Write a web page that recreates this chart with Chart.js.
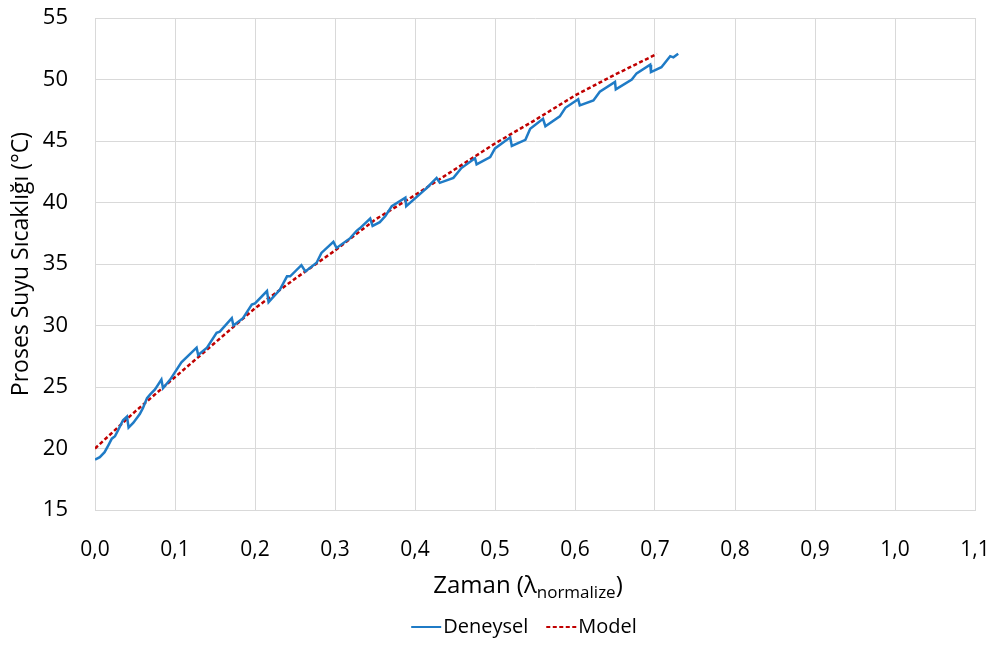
<!DOCTYPE html>
<html>
<head>
<meta charset="utf-8">
<script src="https://cdn.jsdelivr.net/npm/chart.js@4/dist/chart.umd.min.js"></script>
<style>
  html, body { margin: 0; padding: 0; background: #ffffff; }
  #wrap { width: 1001px; height: 650px; }
</style>
</head>
<body>
<div id="wrap"><canvas id="chart" width="1001" height="650"></canvas></div>
<script>
// Deneysel (measured) - time (normalized) and temperature
const deneyselX = [0.000, 0.006, 0.012, 0.017, 0.021, 0.025, 0.029, 0.035, 0.040, 0.042, 0.048, 0.056, 0.060, 0.065, 0.069, 0.075,
    0.083, 0.085, 0.094, 0.108, 0.127, 0.129, 0.140, 0.152, 0.156, 0.171, 0.173, 0.185, 0.196, 0.200, 0.215, 0.217,
    0.231, 0.240, 0.244, 0.258, 0.263, 0.277, 0.283, 0.298, 0.302, 0.319, 0.327, 0.331, 0.344, 0.347, 0.356, 0.363,
    0.371, 0.388, 0.389, 0.410, 0.415, 0.427, 0.431, 0.448, 0.458, 0.475, 0.477, 0.494, 0.500, 0.519, 0.521, 0.538,
    0.544, 0.560, 0.563, 0.581, 0.588, 0.604, 0.606, 0.623, 0.631, 0.650, 0.651, 0.671, 0.677, 0.694, 0.695, 0.708,
    0.719, 0.723, 0.729];
const deneyselY = [19.1, 19.3, 19.7, 20.3, 20.8, 21.0, 21.5, 22.3, 22.6, 21.7, 22.1, 22.8, 23.3, 24.1, 24.4, 24.8,
    25.6, 24.9, 25.6, 27.0, 28.2, 27.6, 28.2, 29.4, 29.5, 30.6, 30.0, 30.6, 31.7, 31.8, 32.8, 31.9,
    32.9, 34.0, 34.0, 34.9, 34.4, 35.1, 35.9, 36.8, 36.3, 37.1, 37.7, 37.9, 38.7, 38.1, 38.4, 38.9,
    39.7, 40.4, 39.7, 40.9, 41.2, 42.0, 41.6, 42.0, 42.8, 43.6, 43.1, 43.7, 44.4, 45.3, 44.6, 45.1,
    46.0, 46.8, 46.2, 47.0, 47.7, 48.4, 47.9, 48.3, 49.0, 49.8, 49.2, 50.0, 50.5, 51.2, 50.6, 51.0,
    51.9, 51.8, 52.1];

// Model curve
const modelX = [0.00, 0.05, 0.10, 0.15, 0.20, 0.25, 0.30, 0.35, 0.40, 0.45, 0.50, 0.55, 0.60, 0.65, 0.70, 0.702];
const modelY = [20.0, 23.0, 25.8, 28.6, 31.4, 33.8, 36.1, 38.6, 40.6, 42.7, 44.8, 46.7, 48.7, 50.4, 52.0, 52.1];

const xMin = 0, xMax = 1.1, xStep = 0.1;
const yMin = 15, yMax = 55, yStep = 5;

const yTitle = "Proses Suyu Sıcaklığı (°C)";
const xTitleMain = "Zaman (λ";
const xTitleSub = "normalize";
const xTitleEnd = ")";

const FONT = "'Open Sans', sans-serif";

function toPoints(xs, ys) {
    return xs.map((x, i) => ({ x: x, y: ys[i] }));
}

// draws the x axis title with a subscript
const xTitlePlugin = {
    id: 'xTitleSub',
    afterDraw(chart) {
        const ctx = chart.ctx;
        const big = "24px " + FONT;
        const small = "17px " + FONT;
        ctx.save();
        ctx.fillStyle = '#000000';
        ctx.textBaseline = 'alphabetic';
        ctx.font = big;
        const w1 = ctx.measureText(xTitleMain).width;
        const w3 = ctx.measureText(xTitleEnd).width;
        ctx.font = small;
        const w2 = ctx.measureText(xTitleSub).width;
        let x = 528 - (w1 + w2 + w3) / 2;
        const y = 593;
        ctx.font = big;
        ctx.fillText(xTitleMain, x, y);
        x += w1;
        ctx.font = small;
        ctx.fillText(xTitleSub, x, y + 5);
        x += w2;
        ctx.font = big;
        ctx.fillText(xTitleEnd, x, y);
        ctx.restore();
    }
};

// legend under the x title: short line sample right before each label
const legendPlugin = {
    id: 'lineLegend',
    afterDraw(chart) {
        const ctx = chart.ctx;
        const sets = chart.data.datasets;
        const lineLen = 30, textGap = 2, itemGap = 18;
        const y = 627;
        ctx.save();
        ctx.font = "20px " + FONT;
        const widths = sets.map(ds => ctx.measureText(ds.label).width);
        let total = 0;
        widths.forEach((w, i) => { total += lineLen + textGap + w + (i > 0 ? itemGap : 0); });
        let x = 524 - total / 2;
        sets.forEach((ds, i) => {
            ctx.strokeStyle = ds.borderColor;
            ctx.lineWidth = 2;
            ctx.setLineDash(ds.borderDash || []);
            ctx.beginPath();
            ctx.moveTo(x, y);
            ctx.lineTo(x + lineLen, y);
            ctx.stroke();
            ctx.setLineDash([]);
            ctx.fillStyle = '#000000';
            ctx.textBaseline = 'middle';
            ctx.fillText(ds.label, x + lineLen + textGap, y);
            x += lineLen + textGap + widths[i] + itemGap;
        });
        ctx.restore();
    }
};

const ctx = document.getElementById('chart').getContext('2d');
const chart = new Chart(ctx, {
    type: 'scatter',
    data: {
        datasets: [
            {
                label: 'Deneysel',
                data: toPoints(deneyselX, deneyselY),
                showLine: true,
                borderColor: '#1f7bc6',
                backgroundColor: '#1f7bc6',
                borderWidth: 2.5,
                pointRadius: 0,
                tension: 0
            },
            {
                label: 'Model',
                data: toPoints(modelX, modelY),
                showLine: true,
                borderColor: '#c00000',
                backgroundColor: '#c00000',
                borderWidth: 2.5,
                borderDash: [4, 2.5],
                pointRadius: 0,
                tension: 0
            }
        ]
    },
    options: {
        responsive: false,
        animation: false,
        layout: {
            padding: { top: 18, right: 26, left: 0, bottom: 0 }
        },
        scales: {
            x: {
                type: 'linear',
                min: xMin,
                max: xMax,
                ticks: {
                    stepSize: xStep,
                    color: '#000000',
                    font: { family: FONT, size: 21 },
                    padding: 27,
                    callback: v => v.toFixed(1).replace('.', ',')
                },
                grid: { color: '#d9d9d9', lineWidth: 1, drawTicks: false },
                border: { color: '#d9d9d9' },
                afterFit: scale => {
                    scale.height = 140;
                    scale.paddingLeft = 0;
                    scale.paddingRight = 0;
                }
            },
            y: {
                type: 'linear',
                min: yMin,
                max: yMax,
                ticks: {
                    stepSize: yStep,
                    color: '#000000',
                    font: { family: FONT, size: 22 },
                    padding: 27
                },
                grid: { color: '#d9d9d9', lineWidth: 1, drawTicks: false },
                border: { color: '#d9d9d9' },
                title: {
                    display: true,
                    text: yTitle,
                    color: '#000000',
                    font: { family: FONT, size: 23 },
                    padding: { top: 8, bottom: 0 }
                },
                afterFit: scale => {
                    scale.width = 95;
                    scale.paddingTop = 0;
                    scale.paddingBottom = 0;
                }
            }
        },
        plugins: {
            legend: { display: false },
            tooltip: { enabled: false }
        }
    },
    plugins: [xTitlePlugin, legendPlugin]
});
</script>
</body>
</html>
